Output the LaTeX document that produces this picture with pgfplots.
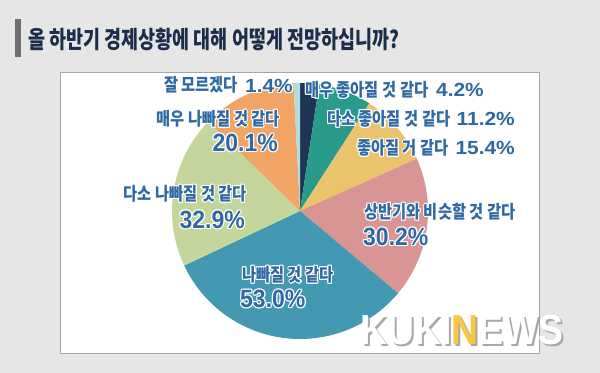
\documentclass[border=0pt]{standalone}
\usepackage{fontspec}
\usepackage{pgfplots}
\usepackage{pgfplotstable}
\pgfplotsset{compat=1.18}
\newfontfamily\krfont[FakeStretch=0.85]{Noto Sans CJK KR}
\newfontfamily\krtitle[FakeStretch=0.77]{Noto Sans CJK KR}
\newfontfamily\numfont[FakeStretch=1.1]{Liberation Sans}
\newfontfamily\bignum[FakeStretch=0.92]{Liberation Sans}
\newfontfamily\logofont[FakeStretch=0.89]{Liberation Sans}

\definecolor{bg}{HTML}{E6E6E6}
\definecolor{framec}{HTML}{A6A6A6}
\definecolor{titlec}{HTML}{1B2D4A}
\definecolor{barc}{HTML}{6E6E6E}
\definecolor{lblc}{HTML}{2E69A4}
\definecolor{logoy}{HTML}{F8C842}
\definecolor{shadowc}{HTML}{A8A8A8}
% pie colours, clockwise from the top
\definecolor{pie0}{HTML}{1F3556}
\definecolor{pie1}{HTML}{2A9B8B}
\definecolor{pie2}{HTML}{E9C46D}
\definecolor{pie3}{HTML}{D99594}
\definecolor{pie4}{HTML}{4299B1}
\definecolor{pie5}{HTML}{C5D69C}
\definecolor{pie6}{HTML}{F1A464}
\definecolor{pie7}{HTML}{AFDDE0}

% share of the pie as drawn (percent), clockwise from 12 o'clock
\pgfplotstableread{
share
2.4
6.7
9.2
17.8
31.9
19.3
11.9
0.8
}\piedata

\newcommand\kr[1]{{\krfont\bfseries\fontsize{18bp}{21bp}\selectfont #1}}
\newcommand\sn[1]{{\numfont\bfseries\fontsize{19bp}{21bp}\selectfont #1}}
\newcommand\bn[1]{{\bignum\bfseries\fontsize{25bp}{27bp}\selectfont #1}}

% x, y in pixels from the top-left corner of the 600x373 picture
% white halo round the blue text
\newcommand\lbl[4]{%
  \foreach \dx/\dy in {-1.2/0,1.2/0,0/-1.2,0/1.2,-0.9/-0.9,-0.9/0.9,0.9/-0.9,0.9/0.9}{%
    \node[anchor=#3,inner sep=0pt,text=white] at ({#1bp+\dx pt},{(373-#2)*1bp+\dy pt}) {#4};}
  \node[anchor=#3,inner sep=0pt,text=lblc] at ({#1bp},{(373-#2)*1bp}) {#4};
}

\begin{document}
\gdef\cum{0}%
\pgfplotstableforeachcolumnelement{share}\of\piedata\as\v{%
  \pgfmathsetmacro\ta{90-3.6*\cum}%
  \pgfmathsetmacro\tb{90-3.6*(\cum+\v)}%
  \expandafter\xdef\csname pieA\pgfplotstablerow\endcsname{\ta}%
  \expandafter\xdef\csname pieB\pgfplotstablerow\endcsname{\tb}%
  \pgfmathsetmacro\cumn{\cum+\v}%
  \xdef\cum{\cumn}%
}%
\begin{tikzpicture}
\begin{axis}[
  width=600bp, height=373bp, scale only axis,
  xmin=0, xmax=600, ymin=0, ymax=373,
  hide axis, clip=false,
]
\fill[bg] (axis cs:0,0) rectangle (axis cs:600,373);
\fill[barc] (axis cs:15,{373-19}) rectangle (axis cs:20.5,{373-57});
\filldraw[fill=white, draw=framec, line width=1bp] (axis cs:60.5,{373-72.5}) rectangle (axis cs:539.5,{373-353.5});

\pgfplotsinvokeforeach{0,...,7}{%
  \fill[pie#1] (axis cs:300,162) -- ++(\csname pieA#1\endcsname:128bp)
    arc[start angle=\csname pieA#1\endcsname, end angle=\csname pieB#1\endcsname, radius=128bp] -- cycle;
}
\end{axis}

\node[anchor=west,inner sep=0pt,text=titlec] at (28bp,{(373-39)*1bp})
  {\krtitle\bfseries\fontsize{24bp}{28bp}\selectfont 올 하반기 경제상황에 대해 어떻게 전망하십니까?};

% watermark
\node[anchor=west,inner sep=0pt,text=shadowc] at (362bp,{(373-332)*1bp})
  {\logofont\bfseries\fontsize{42bp}{44bp}\selectfont KUKINEWS};
\node[anchor=west,inner sep=0pt] at (360bp,{(373-330)*1bp})
  {\logofont\bfseries\fontsize{42bp}{44bp}\selectfont\textcolor{white}{KUKI}\textcolor{logoy}{N}\textcolor{white}{EWS}};

% labels
\lbl{164}{85}{west}{\kr{잘 모르겠다}}
\lbl{293}{86}{east}{\sn{1.4\%}}
\lbl{305}{90}{west}{\kr{매우 좋아질 것 같다}}
\lbl{484}{90}{east}{\sn{4.2\%}}
\lbl{327}{119}{west}{\kr{다소 좋아질 것 같다}}
\lbl{515}{119}{east}{\sn{11.2\%}}
\lbl{357}{148}{west}{\kr{좋아질 거 같다}}
\lbl{515}{148}{east}{\sn{15.4\%}}
\lbl{364}{212}{west}{\kr{상반기와 비슷할 것 같다}}
\lbl{363}{237}{west}{\bn{30.2\%}}
\lbl{242}{275}{west}{\kr{나빠질 것 같다}}
\lbl{240}{299}{west}{\bn{53.0\%}}
\lbl{247}{194}{east}{\kr{다소 나빠질 것 같다}}
\lbl{245}{220}{east}{\bn{32.9\%}}
\lbl{280}{119}{east}{\kr{매우 나빠질 것 같다}}
\lbl{278}{143}{east}{\bn{20.1\%}}

\pgfresetboundingbox
\useasboundingbox (0,0) rectangle (600bp,373bp);
\end{tikzpicture}
\end{document}
